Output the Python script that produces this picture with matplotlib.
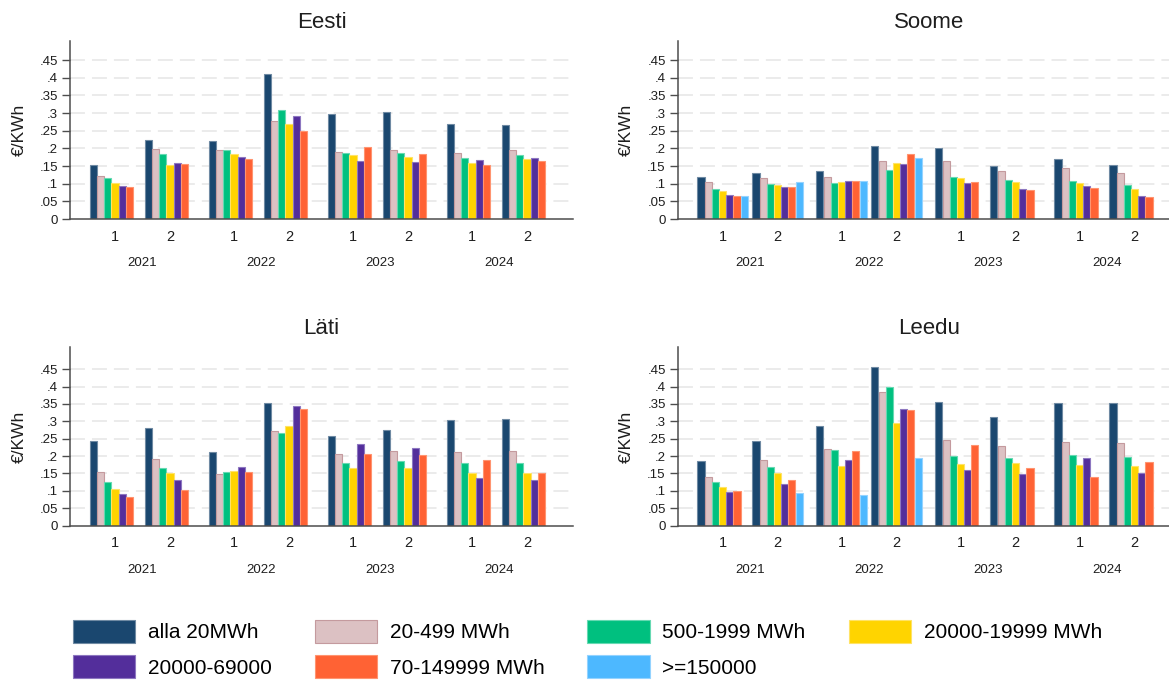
import numpy as np
import matplotlib.pyplot as plt
from matplotlib.patches import Patch

plt.rcParams['font.family'] = ['Liberation Sans', 'DejaVu Sans']

years = ['2021', '2022', '2023', '2024']
halves = ['1', '2']

labels = ['alla 20MWh', '20-499 MWh', '500-1999 MWh', '20000-19999 MWh',
          '20000-69000', '70-149999 MWh', '>=150000']
colors = ['#1a476f', '#dcc1c3', '#00c07f', '#ffd400', '#532e9b', '#ff6234', '#4db8ff']
edges = ['#6f8aa3', '#c49a9e', '#66d9b2', '#ffe366', '#8d77c0', '#ff9470', '#94d3ff']

nan = np.nan
# order in every row: 2021/1, 2021/2, 2022/1, 2022/2, 2023/1, 2023/2, 2024/1, 2024/2
eesti = [
    [0.153, 0.223, 0.222, 0.410, 0.298, 0.303, 0.270, 0.265],
    [0.121, 0.197, 0.196, 0.278, 0.190, 0.195, 0.187, 0.195],
    [0.115, 0.183, 0.195, 0.309, 0.187, 0.187, 0.173, 0.180],
    [0.101, 0.153, 0.185, 0.270, 0.181, 0.176, 0.160, 0.169],
    [0.094, 0.158, 0.177, 0.291, 0.164, 0.162, 0.166, 0.172],
    [0.091, 0.157, 0.170, 0.248, 0.205, 0.183, 0.153, 0.163],
    [nan, nan, nan, nan, nan, nan, nan, nan],
]
soome = [
    [0.118, 0.129, 0.136, 0.207, 0.200, 0.149, 0.169, 0.152],
    [0.104, 0.116, 0.118, 0.165, 0.165, 0.137, 0.145, 0.130],
    [0.084, 0.099, 0.101, 0.139, 0.119, 0.110, 0.108, 0.096],
    [0.079, 0.096, 0.106, 0.158, 0.117, 0.106, 0.101, 0.085],
    [0.067, 0.090, 0.108, 0.157, 0.101, 0.086, 0.094, 0.066],
    [0.065, 0.092, 0.108, 0.183, 0.104, 0.082, 0.089, 0.063],
    [0.066, 0.105, 0.108, 0.172, nan, nan, nan, nan],
]
lati = [
    [0.244, 0.280, 0.213, 0.353, 0.258, 0.275, 0.305, 0.307],
    [0.153, 0.191, 0.148, 0.272, 0.205, 0.214, 0.213, 0.214],
    [0.125, 0.166, 0.153, 0.265, 0.180, 0.187, 0.180, 0.179],
    [0.105, 0.152, 0.157, 0.286, 0.165, 0.166, 0.150, 0.150],
    [0.090, 0.130, 0.170, 0.345, 0.234, 0.222, 0.137, 0.130],
    [0.082, 0.102, 0.154, 0.335, 0.205, 0.204, 0.188, 0.152],
    [nan, nan, nan, nan, nan, nan, nan, nan],
]
leedu = [
    [0.185, 0.244, 0.287, 0.457, 0.355, 0.313, 0.352, 0.352],
    [0.141, 0.190, 0.221, 0.384, 0.245, 0.230, 0.240, 0.237],
    [0.126, 0.169, 0.217, 0.398, 0.200, 0.194, 0.204, 0.197],
    [0.111, 0.152, 0.172, 0.295, 0.178, 0.179, 0.173, 0.172],
    [0.097, 0.121, 0.189, 0.336, 0.159, 0.149, 0.195, 0.152],
    [0.099, 0.132, 0.216, 0.333, 0.232, 0.165, 0.139, 0.183],
    [nan, 0.095, 0.087, 0.195, nan, nan, nan, nan],
]

yticks = [0, 0.05, 0.1, 0.15, 0.2, 0.25, 0.3, 0.35, 0.4, 0.45]
ytick_labels = ['0', '.05', '.1', '.15', '.2', '.25', '.3', '.35', '.4', '.45']

W, H = 1169, 681
fig = plt.figure(figsize=(W / 100, H / 100), dpi=100)

# panel: name, data, left px, top px, upper y limit
panels = [
    ('Eesti', eesti, 70, 40.7, 0.505),
    ('Soome', soome, 677.5, 40.7, 0.505),
    ('Läti', lati, 70, 347.3, 0.513),
    ('Leedu', leedu, 677.5, 347.3, 0.513),
]
pw, ph = 503, 178.3
bw = 7.2
axis_col = '#4d4d4d'
text_col = '#1e1e1e'

# group centres in px along the x axis: half-year groups, wider gap between years
centres = []
for yi in range(len(years)):
    for hi in range(len(halves)):
        centres.append(45 + hi * 55 + yi * 119)
centres = np.array(centres, dtype=float)

for name, data, left, top, ytop in panels:
    ax = fig.add_axes([left / W, 1 - (top + ph) / H, pw / W, ph / H])
    ax.set_xlim(0, pw)
    ax.set_ylim(0, ytop)

    for t in yticks[1:]:
        ax.axhline(t, color='#ebebeb', lw=1.4, ls=(0, (7.7, 3.6)), zorder=0)

    n = len(data)
    for i, vals in enumerate(data):
        x = centres + (i - (n - 1) / 2) * bw
        ax.bar(x, vals, width=bw, color=colors[i], edgecolor=edges[i],
               linewidth=0.8, zorder=2)

    ax.set_yticks(yticks)
    ax.set_yticklabels(ytick_labels)
    ax.set_xticks([])
    ax.tick_params(axis='y', length=5.8, width=1, color=axis_col, pad=2.7,
                   labelsize=9.5, labelcolor=text_col)
    for s in ['top', 'right']:
        ax.spines[s].set_visible(False)
    for s in ['left', 'bottom']:
        ax.spines[s].set_color(axis_col)
        ax.spines[s].set_linewidth(1.1)

    tr = ax.get_xaxis_transform()
    for k, c in enumerate(centres):
        ax.text(c, -17.5 / ph, halves[k % 2], transform=tr, ha='center',
                va='center', fontsize=10.5, color=text_col)
    for yi, yr in enumerate(years):
        mid = (centres[2 * yi] + centres[2 * yi + 1]) / 2
        ax.text(mid, -44 / ph, yr, transform=tr, ha='center', va='center',
                fontsize=9.5, color=text_col)

    ax.text(0.5, 1 + 18.5 / ph, name, transform=ax.transAxes, ha='center',
            va='center', fontsize=16, color=text_col)
    ax.text(-51 / pw, 0.5, '€/KWh', transform=ax.transAxes, rotation=90,
            ha='center', va='center', fontsize=12.5, color=text_col)

# legend: matplotlib fills columns first, so reorder to get rows as in the original
order = [0, 4, 1, 5, 2, 6, 3]
handles = [Patch(facecolor=colors[i], edgecolor=edges[i], linewidth=0.8) for i in order]
fig.legend(handles, [labels[i] for i in order], ncol=4, loc='upper left',
           bbox_to_anchor=(73 / W, 1 - 620 / H), frameon=False, fontsize=15,
           handlelength=2.98, handleheight=1.3, handletextpad=0.62,
           columnspacing=2.06, labelspacing=0.6, borderpad=0, borderaxespad=0)

fig.savefig('out.png', dpi=100)
